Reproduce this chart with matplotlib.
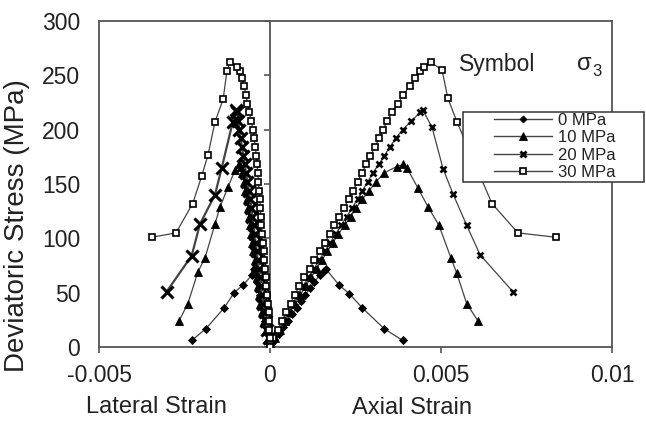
import matplotlib
matplotlib.use("Agg")
import matplotlib.pyplot as plt
from matplotlib.lines import Line2D
from matplotlib.patches import Rectangle

plt.rcParams['font.family'] = ['Liberation Sans', 'DejaVu Sans']

# ---------------- data ----------------
legend_labels = ['0 MPa', '10 MPa', '20 MPa', '30 MPa']
x_ticks = [-0.005, 0, 0.005, 0.01]
x_tick_labels = ['-0.005', '0', '0.005', '0.01']
y_ticks = [0, 50, 100, 150, 200, 250, 300]

# 0 MPa: pre-peak (stress, axial strain, lateral strain)
s0_pre = [0, 6, 12, 18, 24, 30, 36, 42, 48, 54, 60, 66, 70, 72]
a0_pre = [0, 0.00013, 0.00026, 0.00039, 0.00052, 0.00065, 0.00078, 0.0009, 0.00103,
          0.00117, 0.0013, 0.00145, 0.00157, 0.00163]
l0_pre = [0, -0.00003, -0.00007, -0.00011, -0.00016, -0.0002, -0.00024, -0.00027,
          -0.0003, -0.00033, -0.00037, -0.0004, -0.00043, -0.00046]
a0_post_x = [0.00202, 0.00232, 0.0027, 0.00333, 0.00388]
a0_post_y = [57, 49, 36, 17, 6]
l0_post_x = [-0.00053, -0.00079, -0.00105, -0.00134, -0.00187, -0.00229]
l0_post_y = [66, 57, 50, 36, 17, 6]

# 10 MPa
s10_pre = [0, 8, 16, 24, 32, 40, 48, 56, 64, 72, 80, 88, 96, 104, 112, 120, 128, 136,
           144, 152, 160, 166, 168]
a10_pre = [0, 0.00015, 0.0003, 0.00044, 0.00059, 0.00074, 0.00089, 0.00104, 0.0012,
           0.00136, 0.00152, 0.00168, 0.00184, 0.002, 0.00218, 0.00236, 0.00252, 0.0027,
           0.0029, 0.0031, 0.00333, 0.0037, 0.0039]
l10_pre = [0, -0.00006, -0.00013, -0.00019, -0.00024, -0.00028, -0.00032, -0.00036,
           -0.00039, -0.00042, -0.00045, -0.00049, -0.00052, -0.00055, -0.00059,
           -0.00062, -0.00065, -0.00068, -0.00072, -0.00076, -0.00081, -0.00086, -0.0009]
a10_post_x = [0.004, 0.00433, 0.00462, 0.00494, 0.00529, 0.00546, 0.00575, 0.00608]
a10_post_y = [165, 146, 129, 112, 82, 68, 40, 24]
l10_post_x = [-0.00102, -0.00123, -0.00146, -0.00161, -0.0019, -0.00211, -0.0024, -0.00266]
l10_post_y = [163, 147, 129, 113, 82, 69, 40, 24]

# 20 MPa
s20_pre = [0, 8, 16, 24, 32, 40, 48, 56, 64, 72, 80, 88, 96, 104, 112, 120, 128, 136,
           144, 152, 160, 168, 176, 184, 192, 200, 208, 216, 218]
a20_pre = [0, 0.00013, 0.00027, 0.0004, 0.00053, 0.00067, 0.0008, 0.00096, 0.00112,
           0.00128, 0.00144, 0.0016, 0.00176, 0.00192, 0.00208, 0.00224, 0.0024, 0.00256,
           0.0027, 0.00286, 0.003, 0.00318, 0.00334, 0.0035, 0.00368, 0.00388, 0.00413,
           0.0044, 0.00447]
l20_pre = [0, -0.00004, -0.00008, -0.00012, -0.00016, -0.0002, -0.00024, -0.00027,
           -0.0003, -0.00033, -0.00036, -0.00039, -0.00042, -0.00045, -0.00048, -0.00052,
           -0.00055, -0.00058, -0.00062, -0.00066, -0.0007, -0.00074, -0.00078, -0.00082,
           -0.00086, -0.0009, -0.00093, -0.00097, -0.001]
a20_post_x = [0.00474, 0.00506, 0.00535, 0.00575, 0.00614, 0.0071]
a20_post_y = [202, 164, 141, 112, 85, 51]
l20_post_x = [-0.00109, -0.00141, -0.00161, -0.00205, -0.00229, -0.00302]
l20_post_y = [207, 165, 140, 113, 84, 51]

# 30 MPa
s30_pre = [0, 8, 16, 24, 32, 40, 48, 56, 64, 72, 80, 88, 96, 104, 112, 120, 128, 136,
           144, 152, 160, 168, 176, 184, 192, 200, 208, 216, 224, 232, 240, 248, 254,
           258, 262]
a30_pre = [0, 0.0001, 0.00023, 0.00035, 0.00048, 0.0006, 0.00072, 0.00086, 0.001,
           0.00116, 0.0013, 0.00146, 0.0016, 0.00175, 0.00188, 0.00202, 0.00216, 0.0023,
           0.00243, 0.00256, 0.00268, 0.00282, 0.00293, 0.00307, 0.00319, 0.0033,
           0.00343, 0.00357, 0.00374, 0.0039, 0.00408, 0.00425, 0.0044, 0.0045, 0.0047]
l30_pre = [0, -0.00001, -0.00002, -0.00003, -0.00004, -0.00006, -0.00008, -0.00011,
           -0.00013, -0.00015, -0.00017, -0.00019, -0.00021, -0.00023, -0.00025, -0.00027,
           -0.00028, -0.0003, -0.00032, -0.00034, -0.00036, -0.00038, -0.0004, -0.00043,
           -0.00046, -0.0005, -0.00055, -0.00061, -0.00066, -0.0007, -0.00076, -0.00083,
           -0.00088, -0.00096, -0.00117]
a30_post_x = [0.00503, 0.0052, 0.00547, 0.00649, 0.00725, 0.00836]
a30_post_y = [255, 229, 207, 132, 105, 101]
l30_post_x = [-0.00126, -0.00137, -0.00161, -0.00181, -0.002, -0.00226, -0.00275, -0.00346]
l30_post_y = [254, 228, 207, 177, 157, 132, 105, 101]

# ---------------- figure ----------------
W, H = 646, 422
fig = plt.figure(figsize=(W / 100, H / 100), dpi=100)
ax = fig.add_axes([99 / W, 1 - 347 / H, (612 - 99) / W, (347 - 21) / H])
xmin, xmax = -0.005, 0.01
ax.set_xlim(xmin, xmax)
ax.set_ylim(0, 300)

line_c = '#444444'
styles = [
    dict(marker='D', ms=4, mfc='black', mec='black', mew=0.6),
    dict(marker='^', ms=6, mfc='black', mec='black', mew=0.6),
    dict(marker='x', ms=5, mfc='black', mec='black', mew=1.9),
    dict(marker='s', ms=5, mfc='white', mec='black', mew=1.2),
]

series = [
    (s0_pre, a0_pre, l0_pre, a0_post_x, a0_post_y, l0_post_x, l0_post_y),
    (s10_pre, a10_pre, l10_pre, a10_post_x, a10_post_y, l10_post_x, l10_post_y),
    (s20_pre, a20_pre, l20_pre, a20_post_x, a20_post_y, l20_post_x, l20_post_y),
    (s30_pre, a30_pre, l30_pre, a30_post_x, a30_post_y, l30_post_x, l30_post_y),
]

for i, (s, a, l, apx, apy, lpx, lpy) in enumerate(series):
    st = dict(styles[i])
    ax.plot(list(a) + list(apx), list(s) + list(apy), color=line_c, lw=0.9, zorder=3 + i, **st)
    if i == 2:
        st.update(ms=8, mew=2.2)
        lw = 1.6
    else:
        lw = 0.9
    ax.plot(list(l) + list(lpx), list(s) + list(lpy), color=line_c, lw=lw, zorder=3 + i, **st)

spine_c = '#555555'
for sp in ax.spines.values():
    sp.set_color(spine_c)
    sp.set_linewidth(1.3)

ax.set_xticks(x_ticks)
ax.set_xticklabels(x_tick_labels)
ax.set_yticks(y_ticks)
ax.set_yticklabels([str(v) for v in y_ticks])
ax.tick_params(axis='x', direction='out', length=4, width=1.2, color=spine_c, pad=8,
               labelsize=16.5, labelcolor='#222222')
ax.tick_params(axis='y', length=0, pad=13.5, labelsize=16.5, labelcolor='#222222')

# vertical zero line with ticks
sec = ax.secondary_yaxis((0 - xmin) / (xmax - xmin))
sec.set_yticks(y_ticks)
sec.tick_params(axis='y', direction='out', length=4, width=1.2, color=spine_c,
                labelleft=False, labelright=False)
for sp in sec.spines.values():
    sp.set_color(spine_c)
    sp.set_linewidth(1.3)

# axis titles
fig.text(17 / W, 1 - 372 / H, 'Deviatoric Stress (MPa)', rotation=90, ha='center',
         va='bottom', fontsize=20, color='#222222')
fig.text(156 / W, 1 - 407 / H, 'Lateral Strain', ha='center', va='center', fontsize=17,
         color='#222222')
fig.text(412 / W, 1 - 408 / H, 'Axial Strain', ha='center', va='center', fontsize=17,
         color='#222222')

fig.text(497 / W, 1 - 65 / H, 'Symbol', ha='center', va='center', fontsize=16.5,
         color='#222222')
fig.text(584 / W, 1 - 64 / H, 'σ', ha='center', va='center', fontsize=17,
         color='#222222')
fig.text(597 / W, 1 - 71 / H, '3', ha='center', va='center', fontsize=12,
         color='#222222')

# legend box
rect = Rectangle((463 / W, 1 - 182 / H), (644 - 463) / W, (182 - 112) / H,
                 transform=fig.transFigure, facecolor='white', edgecolor='#333333',
                 linewidth=1.1, zorder=4)
fig.patches.append(rect)

handles = []
for i in range(4):
    st = dict(styles[i])
    if i == 2:
        st.update(ms=4, mew=2)
    else:
        st['ms'] = st['ms'] - 0.5
    handles.append(Line2D([], [], color=line_c, lw=1.0, **st))
leg = fig.legend(handles, legend_labels, loc='upper left',
                 bbox_to_anchor=(494 / W, 1 - 113 / H), frameon=False, fontsize=12,
                 handlelength=3.5, handletextpad=0.35, labelspacing=0.14, borderpad=0,
                 borderaxespad=0)
leg.set_zorder(6)
for t in leg.get_texts():
    t.set_color('#222222')

fig.savefig('out.png', dpi=100)
